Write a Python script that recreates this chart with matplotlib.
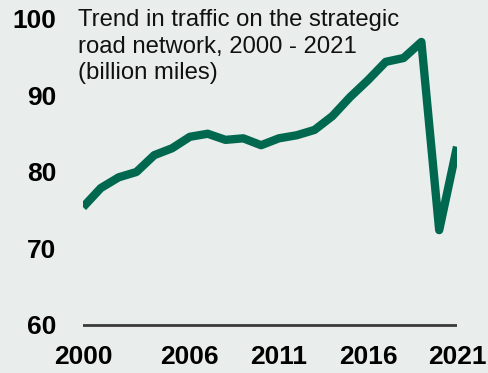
import matplotlib
matplotlib.use("Agg")
import matplotlib.pyplot as plt

years = list(range(2000, 2022))
traffic = [75.4, 77.9, 79.3, 80.0, 82.2, 83.1, 84.6, 85.0, 84.2, 84.4, 83.5,
           84.4, 84.8, 85.5, 87.3, 89.8, 92.0, 94.4, 94.9, 97.0, 72.4, 83.3]
xticks = [2000, 2006, 2011, 2016, 2021]
yticks = [60, 70, 80, 90, 100]
title = "Trend in traffic on the strategic\nroad network, 2000 - 2021\n(billion miles)"

bg = "#e9edeb"
green = "#00684f"

plt.rcParams['font.family'] = ['Liberation Sans', 'DejaVu Sans']
fig = plt.figure(figsize=(4.88, 3.73), dpi=100, facecolor=bg)
ax = fig.add_axes([83/488, 0.1082, (457-83)/488, 0.8614])
ax.set_facecolor(bg)
ax.plot(years, traffic, color=green, lw=6, solid_joinstyle='round', solid_capstyle='butt')
ax.axhline(60, color="#3a3a3a", lw=2)
ax.set_xlim(2000, 2021)
ax.set_ylim(59, 101)
ax.set_xticks(xticks)
ax.set_xticklabels([str(x) for x in xticks], fontsize=19, fontweight='bold')
ax.set_yticks(yticks)
ax.set_yticklabels([str(y) for y in yticks], fontsize=19, fontweight='bold')
ax.tick_params(axis='both', length=0)
ax.tick_params(axis='y', pad=19)
ax.tick_params(axis='x', pad=9)
for s in ax.spines.values():
    s.set_visible(False)
fig.text(78/488, 1 - 9/373, title, fontsize=17.2, va='top', ha='left',
         linespacing=1.27, color='#111111')
fig.savefig("out.png", dpi=100, facecolor=bg)
